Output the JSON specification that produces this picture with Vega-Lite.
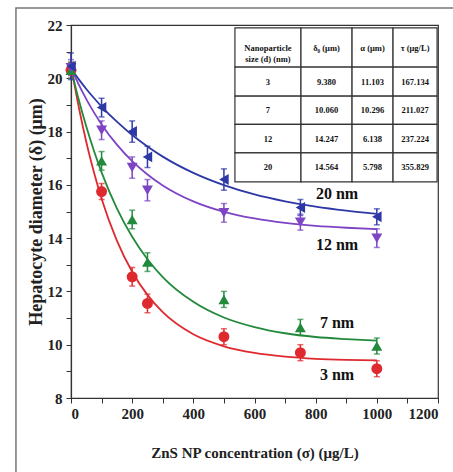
{
  "$schema": "https://vega.github.io/schema/vega-lite/v6.json",
  "autosize": {"type": "none"},
  "width": 367,
  "height": 373,
  "padding": {"left": 71, "top": 25, "right": 15, "bottom": 74},
  "background": "white",
  "config": {
    "view": {"stroke": "#333", "strokeWidth": 1.2},
    "font": "Liberation Serif",
    "axis": {
      "grid": false,
      "domainColor": "#333",
      "domainWidth": 1.2,
      "tickColor": "#333",
      "tickSize": 5,
      "labelFont": "Liberation Serif",
      "labelFontWeight": "bold",
      "labelFontSize": 15,
      "labelColor": "#222",
      "titleFont": "Liberation Serif",
      "titleFontWeight": "bold",
      "titleColor": "#222"
    }
  },
  "datasets": {
    "frame": [
      {"left": -180, "right": 1270, "top": 22.64, "bottom": 4.5}
    ],
    "pts": [
      {"size": "3 nm", "conc": 0, "diam": 20.3, "err": 0.3},
      {"size": "3 nm", "conc": 100, "diam": 15.75, "err": 0.3},
      {"size": "3 nm", "conc": 200, "diam": 12.55, "err": 0.35},
      {"size": "3 nm", "conc": 250, "diam": 11.55, "err": 0.35},
      {"size": "3 nm", "conc": 500, "diam": 10.3, "err": 0.3},
      {"size": "3 nm", "conc": 750, "diam": 9.7, "err": 0.3},
      {"size": "3 nm", "conc": 1000, "diam": 9.1, "err": 0.3},
      {"size": "7 nm", "conc": 0, "diam": 20.3, "err": 0.3},
      {"size": "7 nm", "conc": 100, "diam": 16.9, "err": 0.35},
      {"size": "7 nm", "conc": 200, "diam": 14.7, "err": 0.35},
      {"size": "7 nm", "conc": 250, "diam": 13.1, "err": 0.35},
      {"size": "7 nm", "conc": 500, "diam": 11.7, "err": 0.3},
      {"size": "7 nm", "conc": 750, "diam": 10.65, "err": 0.3},
      {"size": "7 nm", "conc": 1000, "diam": 9.95, "err": 0.3},
      {"size": "12 nm", "conc": 0, "diam": 20.4, "err": 0.3},
      {"size": "12 nm", "conc": 100, "diam": 18.05, "err": 0.35},
      {"size": "12 nm", "conc": 200, "diam": 16.65, "err": 0.4},
      {"size": "12 nm", "conc": 250, "diam": 15.8, "err": 0.4},
      {"size": "12 nm", "conc": 500, "diam": 14.95, "err": 0.35},
      {"size": "12 nm", "conc": 750, "diam": 14.6, "err": 0.3},
      {"size": "12 nm", "conc": 1000, "diam": 14.0, "err": 0.35},
      {"size": "20 nm", "conc": 0, "diam": 20.45, "err": 0.5},
      {"size": "20 nm", "conc": 100, "diam": 18.9, "err": 0.35},
      {"size": "20 nm", "conc": 200, "diam": 18.0, "err": 0.4},
      {"size": "20 nm", "conc": 250, "diam": 17.05, "err": 0.4},
      {"size": "20 nm", "conc": 500, "diam": 16.2, "err": 0.4},
      {"size": "20 nm", "conc": 750, "diam": 15.15, "err": 0.3},
      {"size": "20 nm", "conc": 1000, "diam": 14.8, "err": 0.3}
    ],
    "fit": [
      {"size": "3 nm", "conc": 0, "diam": 20.48},
      {"size": "3 nm", "conc": 25, "diam": 18.94},
      {"size": "3 nm", "conc": 50, "diam": 17.61},
      {"size": "3 nm", "conc": 75, "diam": 16.47},
      {"size": "3 nm", "conc": 100, "diam": 15.48},
      {"size": "3 nm", "conc": 150, "diam": 13.91},
      {"size": "3 nm", "conc": 200, "diam": 12.74},
      {"size": "3 nm", "conc": 250, "diam": 11.87},
      {"size": "3 nm", "conc": 300, "diam": 11.22},
      {"size": "3 nm", "conc": 400, "diam": 10.39},
      {"size": "3 nm", "conc": 500, "diam": 9.94},
      {"size": "3 nm", "conc": 600, "diam": 9.69},
      {"size": "3 nm", "conc": 700, "diam": 9.55},
      {"size": "3 nm", "conc": 800, "diam": 9.47},
      {"size": "3 nm", "conc": 900, "diam": 9.43},
      {"size": "3 nm", "conc": 1000, "diam": 9.41},
      {"size": "7 nm", "conc": 0, "diam": 20.36},
      {"size": "7 nm", "conc": 25, "diam": 19.21},
      {"size": "7 nm", "conc": 50, "diam": 18.19},
      {"size": "7 nm", "conc": 75, "diam": 17.28},
      {"size": "7 nm", "conc": 100, "diam": 16.47},
      {"size": "7 nm", "conc": 150, "diam": 15.12},
      {"size": "7 nm", "conc": 200, "diam": 14.05},
      {"size": "7 nm", "conc": 250, "diam": 13.21},
      {"size": "7 nm", "conc": 300, "diam": 12.54},
      {"size": "7 nm", "conc": 400, "diam": 11.61},
      {"size": "7 nm", "conc": 500, "diam": 11.02},
      {"size": "7 nm", "conc": 600, "diam": 10.66},
      {"size": "7 nm", "conc": 700, "diam": 10.43},
      {"size": "7 nm", "conc": 800, "diam": 10.29},
      {"size": "7 nm", "conc": 900, "diam": 10.21},
      {"size": "7 nm", "conc": 1000, "diam": 10.15},
      {"size": "12 nm", "conc": 0, "diam": 20.39},
      {"size": "12 nm", "conc": 25, "diam": 19.77},
      {"size": "12 nm", "conc": 50, "diam": 19.22},
      {"size": "12 nm", "conc": 75, "diam": 18.72},
      {"size": "12 nm", "conc": 100, "diam": 18.27},
      {"size": "12 nm", "conc": 150, "diam": 17.51},
      {"size": "12 nm", "conc": 200, "diam": 16.89},
      {"size": "12 nm", "conc": 250, "diam": 16.39},
      {"size": "12 nm", "conc": 300, "diam": 15.98},
      {"size": "12 nm", "conc": 400, "diam": 15.38},
      {"size": "12 nm", "conc": 500, "diam": 14.99},
      {"size": "12 nm", "conc": 600, "diam": 14.74},
      {"size": "12 nm", "conc": 700, "diam": 14.57},
      {"size": "12 nm", "conc": 800, "diam": 14.46},
      {"size": "12 nm", "conc": 900, "diam": 14.39},
      {"size": "12 nm", "conc": 1000, "diam": 14.34},
      {"size": "20 nm", "conc": 0, "diam": 20.36},
      {"size": "20 nm", "conc": 25, "diam": 19.97},
      {"size": "20 nm", "conc": 50, "diam": 19.6},
      {"size": "20 nm", "conc": 75, "diam": 19.26},
      {"size": "20 nm", "conc": 100, "diam": 18.94},
      {"size": "20 nm", "conc": 150, "diam": 18.37},
      {"size": "20 nm", "conc": 200, "diam": 17.87},
      {"size": "20 nm", "conc": 250, "diam": 17.44},
      {"size": "20 nm", "conc": 300, "diam": 17.06},
      {"size": "20 nm", "conc": 400, "diam": 16.45},
      {"size": "20 nm", "conc": 500, "diam": 15.99},
      {"size": "20 nm", "conc": 600, "diam": 15.64},
      {"size": "20 nm", "conc": 700, "diam": 15.38},
      {"size": "20 nm", "conc": 800, "diam": 15.18},
      {"size": "20 nm", "conc": 900, "diam": 15.03},
      {"size": "20 nm", "conc": 1000, "diam": 14.91}
    ],
    "curveLabels": [
      {"size": "20 nm", "conc": 870, "diam": 15.67},
      {"size": "12 nm", "conc": 870, "diam": 13.74},
      {"size": "7 nm", "conc": 870, "diam": 10.81},
      {"size": "3 nm", "conc": 870, "diam": 8.86}
    ],
    "table": [
      {"x0": 536, "x1": 752, "y0": 21.89, "y1": 20.42, "cx": 644, "cy": 21.155, "txt": "Nanoparticle\nsize (d) (nm)"},
      {"x0": 752, "x1": 919, "y0": 21.89, "y1": 20.42, "cx": 835.5, "cy": 21.155, "txt": "δ₀ (μm)"},
      {"x0": 919, "x1": 1053, "y0": 21.89, "y1": 20.42, "cx": 986, "cy": 21.155, "txt": "α (μm)"},
      {"x0": 1053, "x1": 1197, "y0": 21.89, "y1": 20.42, "cx": 1125, "cy": 21.155, "txt": "τ (μg/L)"},
      {"x0": 536, "x1": 752, "y0": 20.42, "y1": 19.33, "cx": 644, "cy": 19.875, "txt": "3"},
      {"x0": 752, "x1": 919, "y0": 20.42, "y1": 19.33, "cx": 835.5, "cy": 19.875, "txt": "9.380"},
      {"x0": 919, "x1": 1053, "y0": 20.42, "y1": 19.33, "cx": 986, "cy": 19.875, "txt": "11.103"},
      {"x0": 1053, "x1": 1197, "y0": 20.42, "y1": 19.33, "cx": 1125, "cy": 19.875, "txt": "167.134"},
      {"x0": 536, "x1": 752, "y0": 19.33, "y1": 18.27, "cx": 644, "cy": 18.8, "txt": "7"},
      {"x0": 752, "x1": 919, "y0": 19.33, "y1": 18.27, "cx": 835.5, "cy": 18.8, "txt": "10.060"},
      {"x0": 919, "x1": 1053, "y0": 19.33, "y1": 18.27, "cx": 986, "cy": 18.8, "txt": "10.296"},
      {"x0": 1053, "x1": 1197, "y0": 19.33, "y1": 18.27, "cx": 1125, "cy": 18.8, "txt": "211.027"},
      {"x0": 536, "x1": 752, "y0": 18.27, "y1": 17.2, "cx": 644, "cy": 17.735, "txt": "12"},
      {"x0": 752, "x1": 919, "y0": 18.27, "y1": 17.2, "cx": 835.5, "cy": 17.735, "txt": "14.247"},
      {"x0": 919, "x1": 1053, "y0": 18.27, "y1": 17.2, "cx": 986, "cy": 17.735, "txt": "6.138"},
      {"x0": 1053, "x1": 1197, "y0": 18.27, "y1": 17.2, "cx": 1125, "cy": 17.735, "txt": "237.224"},
      {"x0": 536, "x1": 752, "y0": 17.2, "y1": 16.11, "cx": 644, "cy": 16.655, "txt": "20"},
      {"x0": 752, "x1": 919, "y0": 17.2, "y1": 16.11, "cx": 835.5, "cy": 16.655, "txt": "14.564"},
      {"x0": 919, "x1": 1053, "y0": 17.2, "y1": 16.11, "cx": 986, "cy": 16.655, "txt": "5.798"},
      {"x0": 1053, "x1": 1197, "y0": 17.2, "y1": 16.11, "cx": 1125, "cy": 16.655, "txt": "355.829"}
    ]
  },
  "encoding": {
    "x": {
      "type": "quantitative",
      "scale": {"domain": [0, 1200], "nice": false, "zero": false},
      "title": "ZnS NP concentration (σ) (μg/L)",
      "axis": {
        "values": [0, 100, 200, 300, 400, 500, 600, 700, 800, 900, 1000, 1100, 1200],
        "labelExpr": "datum.value % 200 == 0 ? format(datum.value, 'd') : ''",
        "labelPadding": 3,
        "titleFontSize": 15,
        "titlePadding": 24
      }
    },
    "y": {
      "type": "quantitative",
      "scale": {"domain": [8, 22], "nice": false, "zero": false},
      "title": "Hepatocyte diameter (δ) (μm)",
      "axis": {
        "values": [8, 9, 10, 11, 12, 13, 14, 15, 16, 17, 18, 19, 20, 21, 22],
        "labelExpr": "datum.value % 2 == 0 ? datum.label : ''",
        "labelPadding": 4,
        "titleFontSize": 18,
        "titlePadding": 2
      }
    }
  },
  "layer": [
    {
      "data": {"name": "frame"},
      "mark": {"type": "rect", "fill": null, "fillOpacity": 0, "stroke": "#777", "strokeWidth": 1.5, "clip": false},
      "encoding": {
        "x": {"field": "left", "type": "quantitative", "title": "ZnS NP concentration (σ) (μg/L)"},
        "x2": {"field": "right"},
        "y": {"field": "top", "type": "quantitative", "title": "Hepatocyte diameter (δ) (μm)"},
        "y2": {"field": "bottom"}
      }
    },
    {
      "data": {"name": "fit"},
      "mark": {"type": "line", "interpolate": "monotone", "strokeWidth": 1.8},
      "encoding": {
        "x": {"field": "conc", "type": "quantitative", "title": "ZnS NP concentration (σ) (μg/L)"},
        "y": {"field": "diam", "type": "quantitative", "title": "Hepatocyte diameter (δ) (μm)"},
        "detail": {"field": "size"},
        "color": {
          "field": "size", "type": "nominal",
          "scale": {"domain": ["3 nm", "7 nm", "12 nm", "20 nm"], "range": ["#de2a2e", "#23893c", "#7d44c4", "#2d38a6"]},
          "legend": null
        }
      }
    },
    {
      "data": {"name": "pts"},
      "mark": {"type": "errorbar", "ticks": {"size": 6, "thickness": 1.5}, "thickness": 1.5},
      "encoding": {
        "x": {"field": "conc", "type": "quantitative", "title": "ZnS NP concentration (σ) (μg/L)"},
        "y": {"field": "diam", "type": "quantitative", "title": "Hepatocyte diameter (δ) (μm)"},
        "yError": {"field": "err"},
        "color": {"field": "size", "type": "nominal", "legend": null}
      }
    },
    {
      "data": {"name": "pts"},
      "mark": {"type": "point", "filled": true, "opacity": 1},
      "encoding": {
        "x": {"field": "conc", "type": "quantitative", "title": "ZnS NP concentration (σ) (μg/L)"},
        "y": {"field": "diam", "type": "quantitative", "title": "Hepatocyte diameter (δ) (μm)"},
        "color": {"field": "size", "type": "nominal", "legend": null},
        "shape": {
          "field": "size", "type": "nominal",
          "scale": {"domain": ["3 nm", "7 nm", "12 nm", "20 nm"], "range": ["circle", "triangle-up", "triangle-down", "triangle-left"]},
          "legend": null
        },
        "size": {"value": 120}
      }
    },
    {
      "data": {"name": "curveLabels"},
      "mark": {"type": "text", "font": "Liberation Serif", "fontWeight": "bold", "fontSize": 16, "color": "#111"},
      "encoding": {
        "x": {"field": "conc", "type": "quantitative", "title": "ZnS NP concentration (σ) (μg/L)"},
        "y": {"field": "diam", "type": "quantitative", "title": "Hepatocyte diameter (δ) (μm)"},
        "text": {"field": "size"}
      }
    },
    {
      "data": {"name": "table"},
      "mark": {"type": "rect", "fill": "white", "stroke": "#333", "strokeWidth": 1.2},
      "encoding": {
        "x": {"field": "x0", "type": "quantitative", "title": "ZnS NP concentration (σ) (μg/L)"},
        "x2": {"field": "x1"},
        "y": {"field": "y0", "type": "quantitative", "title": "Hepatocyte diameter (δ) (μm)"},
        "y2": {"field": "y1"}
      }
    },
    {
      "data": {"name": "table"},
      "mark": {"type": "text", "font": "Liberation Serif", "fontWeight": "bold", "fontSize": 8.5, "color": "#111", "lineBreak": "\n", "lineHeight": 11},
      "encoding": {
        "x": {"field": "cx", "type": "quantitative", "title": "ZnS NP concentration (σ) (μg/L)"},
        "y": {"field": "cy", "type": "quantitative", "title": "Hepatocyte diameter (δ) (μm)"},
        "text": {"field": "txt"}
      }
    }
  ]
}
